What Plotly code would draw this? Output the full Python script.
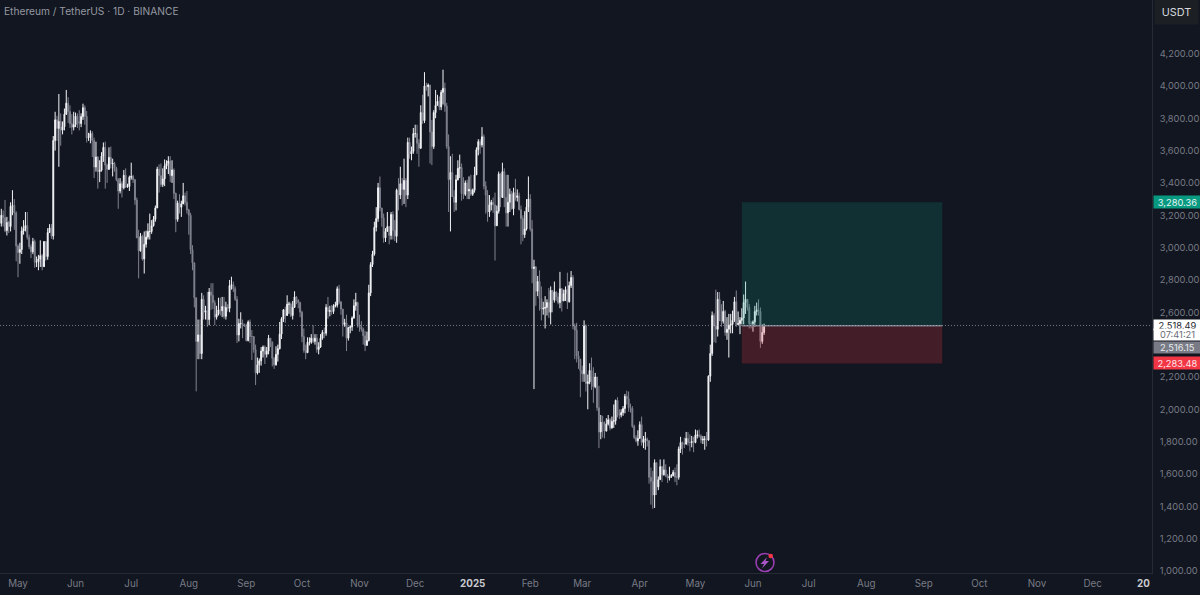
import pandas as pd
import plotly.graph_objects as go

BG = "#121620"
FIRST_DAY = "2024-04-22"

opens = [
3150,3200,3185,3105,3155,3130,3255,3260,3215,
3010,2970,2988,3103,3118,3136,3063,3005,2974,3037,2910,2912,2930,2950,2882,3037,2945,3093,3122,3072,3662,3790,3737,3780,3726,3748,3825,3893,3841,3766,3745,
3760,3813,3780,3767,3810,3865,3812,3679,3681,3706,3662,3498,3560,3470,3478,3566,3620,3510,3484,3558,3517,3520,3490,3420,3350,3395,3370,3447,3375,3378,
3435,3440,3420,3295,3060,2980,3070,2930,3020,3065,3100,3100,3135,3175,3245,3485,3445,3390,3425,3505,3520,3535,3445,3480,3335,3175,3275,3250,3270,3320,3280,
3232,3200,2987,2905,2690,2420,2460,2345,2680,2600,2610,2555,2725,2705,2660,2570,2590,2615,2610,2636,2575,2630,2625,2765,2770,2745,2680,2460,2530,2530,2525,
2515,2425,2540,2450,2450,2370,2225,2275,2300,2360,2385,2340,2360,2440,2415,2315,2275,2340,2375,2465,2560,2615,2580,2650,2650,2580,2630,2695,2675,2660,
2600,2450,2365,2350,2415,2415,2440,2420,2440,2370,2385,2440,2475,2470,2630,2605,2610,2605,2640,2645,2745,2665,2620,2525,2535,2440,2505,2510,2565,2640,2660,
2520,2510,2495,2455,2395,2425,2720,2895,2960,3125,3180,3370,3245,3185,3060,3100,3130,3075,3205,3105,3070,3355,3325,3395,3360,3415,3325,3650,3580,3595,
3705,3705,3645,3615,3835,3785,4000,3995,4005,3715,3625,3835,3880,3905,3870,3960,3985,3875,3625,3420,3465,3315,3280,3420,3490,3495,3335,3330,3400,3350,3360,
3330,3355,3450,3605,3655,3635,3685,3380,3325,3220,3265,3280,3265,3135,3225,3455,3310,3470,3310,3215,3280,3330,3240,3340,3310,3320,3235,3180,3080,3115,3250,
3300,3115,2870,2880,2730,2790,2685,2620,2625,2630,2660,2600,2735,2675,2725,2695,2660,2745,2670,2715,2740,2665,2765,2815,2515,2490,2330,2310,
2240,2220,2515,2160,2170,2240,2200,2140,2200,2010,1860,1920,1905,1865,1910,1935,1885,1925,1930,2055,1965,1965,1980,2005,2080,2065,2010,2005,1895,1825,1805,
1820,1905,1795,1815,1815,1805,1580,1555,1470,1670,1520,1565,1645,1595,1625,1590,1575,1585,1590,1610,1580,1580,1755,1795,1785,1785,1820,1795,1795,1800,
1795,1840,1840,1835,1810,1815,1815,1810,2205,2345,2580,2515,2495,2680,2610,2545,2605,2475,2495,2520,2525,2550,2665,2525,2530,2550,2565,2660,2680,2630,2530,
2530,2540,2605,2615,2605,2420,2475,
]
highs = [
3240,3230,3295,3190,3165,3280,3355,3300,3225,
3020,3030,3130,3170,3220,3220,3080,3020,3060,3050,2945,2955,3045,2960,3040,3040,3120,3145,3145,3690,3840,3815,3950,3830,3780,3860,3975,3930,3880,3825,3840,
3835,3830,3850,3830,3890,3880,3845,3710,3725,3720,3680,3655,3565,3540,3590,3650,3655,3520,3620,3625,3550,3530,3500,3430,3430,3410,3480,3490,3395,3445,
3525,3450,3425,3310,3110,3090,3080,3100,3105,3150,3210,3170,3195,3260,3500,3515,3520,3490,3545,3540,3565,3565,3540,3490,3340,3290,3330,3290,3400,3340,3350,
3240,3215,3015,2910,2560,2555,2555,2720,2705,2640,2725,2750,2780,2780,2675,2640,2690,2690,2695,2695,2665,2650,2800,2820,2790,2760,2700,2560,2600,2555,2530,
2530,2550,2555,2490,2420,2400,2320,2315,2385,2395,2395,2385,2460,2430,2420,2325,2390,2400,2540,2570,2620,2635,2705,2665,2660,2670,2730,2700,2680,2665,
2610,2500,2400,2445,2445,2465,2520,2465,2465,2415,2465,2490,2505,2650,2695,2640,2645,2650,2665,2760,2770,2640,2620,2560,2585,2510,2520,2575,2680,2720,2665,
2585,2545,2505,2485,2480,2770,2910,2980,3160,3250,3400,3440,3240,3210,3120,3220,3120,3220,3225,3170,3365,3430,3500,3430,3550,3430,3680,3680,3625,3740,
3760,3760,3670,3880,3945,4085,4020,4015,4005,3790,3850,3975,3945,3935,3975,4100,4020,3895,3700,3565,3580,3355,3450,3540,3575,3520,3435,3415,3420,3440,3450,
3365,3500,3620,3670,3670,3745,3700,3410,3355,3325,3295,3310,3340,3260,3470,3460,3525,3490,3450,3450,3365,3350,3370,3425,3360,3340,3260,3200,3225,3300,3440,
3330,3170,2925,2885,2825,2860,2760,2665,2700,2680,2750,2760,2730,2790,2730,2720,2850,2750,2740,2760,2845,2790,2855,2830,2530,2535,2360,2300,
2270,2550,2525,2215,2285,2320,2260,2225,2200,2145,1965,1960,1925,1945,1965,1945,1955,2030,2060,2075,2000,2000,2020,2095,2115,2110,2035,2020,1905,1840,1870,
1925,1955,1835,1860,1825,1810,1640,1620,1690,1670,1585,1690,1650,1690,1660,1600,1645,1600,1625,1640,1660,1770,1830,1800,1825,1860,1860,1845,1835,1830,
1875,1870,1875,1845,1835,1835,1860,2210,2400,2605,2595,2740,2725,2725,2650,2670,2615,2570,2590,2590,2610,2695,2735,2605,2570,2625,2710,2790,2680,2650,2545,
2550,2640,2660,2680,2630,2525,2530,
]
lows = [
3130,3130,3095,3075,3090,3100,3200,3110,2915,
2817,2900,2960,3080,3100,3050,2990,2935,2960,2875,2880,2860,2880,2860,2880,2920,2925,3095,3055,3050,3600,3660,3500,3630,3700,3725,3820,3770,3740,3700,3725,
3745,3740,3725,3745,3790,3760,3650,3660,3645,3560,3430,3470,3365,3405,3470,3530,3365,3400,3480,3490,3440,3470,3410,3240,3335,3310,3360,3370,3370,3350,
3420,3400,3265,3060,2810,2975,2920,2840,3000,3050,3050,3085,3130,3160,3245,3340,3375,3375,3380,3485,3455,3405,3400,3300,3095,3160,3210,3190,3290,3260,3210,
3080,2960,2860,2630,2111,2310,2310,2310,2555,2555,2510,2520,2615,2620,2520,2555,2580,2580,2570,2560,2555,2605,2600,2740,2725,2670,2410,2420,2500,2440,2510,
2420,2420,2410,2305,2350,2150,2215,2225,2270,2320,2280,2320,2340,2385,2265,2250,2270,2295,2370,2435,2540,2535,2590,2590,2570,2555,2630,2650,2625,2570,
2415,2350,2310,2350,2395,2405,2410,2400,2350,2340,2380,2430,2440,2455,2560,2575,2585,2590,2630,2630,2650,2585,2450,2510,2360,2425,2470,2485,2560,2610,2505,
2480,2480,2400,2360,2395,2420,2700,2880,2950,3100,3160,3225,3130,3030,3035,3100,3020,3050,3050,3040,3030,3230,3300,3260,3270,3250,3300,3550,3540,3580,
3680,3580,3500,3610,3765,3770,3970,3935,3520,3510,3610,3800,3880,3850,3850,3885,3840,3610,3220,3100,3320,3220,3230,3415,3430,3290,3300,3320,3300,3300,3320,
3320,3340,3450,3570,3580,3620,3360,3210,3160,3190,3230,3215,2920,3135,3210,3250,3320,3250,3130,3130,3220,3235,3200,3290,3285,3230,3020,3040,3060,3105,3220,
3100,2780,2125,2640,2700,2610,2550,2585,2500,2580,2565,2525,2600,2660,2670,2650,2625,2605,2670,2670,2620,2660,2750,2495,2310,2290,2250,2075,
2170,2170,2110,2000,2155,2120,2040,2130,1990,1760,1815,1825,1820,1865,1900,1870,1880,1885,1905,1950,1940,1950,1960,1975,2030,1985,1980,1885,1815,1795,1775,
1820,1775,1760,1750,1770,1540,1410,1385,1390,1470,1500,1565,1550,1590,1580,1545,1560,1575,1585,1550,1530,1565,1730,1720,1760,1780,1775,1740,1765,1735,
1790,1820,1825,1790,1785,1750,1770,1805,2170,2330,2415,2410,2450,2545,2510,2530,2455,2430,2320,2470,2470,2540,2510,2520,2465,2525,2525,2590,2610,2500,2500,
2480,2510,2580,2580,2380,2405,2460,
]
closes = [
3200,3185,3105,3155,3130,3255,3260,3215,3010,
2970,2988,3103,3118,3136,3063,3005,2974,3037,2910,2912,2930,2950,2882,3037,2945,3093,3122,3072,3662,3790,3737,3780,3726,3748,3825,3893,3841,3766,3745,3760,
3813,3780,3767,3810,3865,3812,3679,3681,3706,3662,3498,3560,3470,3478,3566,3620,3510,3484,3558,3517,3520,3490,3420,3350,3395,3370,3447,3375,3378,3435,
3440,3420,3295,3060,2980,3070,2930,3020,3065,3100,3100,3135,3175,3245,3485,3445,3390,3425,3505,3520,3535,3445,3480,3335,3175,3275,3250,3270,3320,3280,3232,
3200,2987,2905,2690,2420,2460,2345,2680,2600,2610,2555,2725,2705,2660,2570,2590,2615,2610,2636,2575,2630,2625,2765,2770,2745,2680,2460,2530,2530,2525,2515,
2425,2540,2450,2450,2370,2225,2275,2300,2360,2385,2340,2360,2440,2415,2315,2275,2340,2375,2465,2560,2615,2580,2650,2650,2580,2630,2695,2675,2660,2600,
2450,2365,2350,2415,2415,2440,2420,2440,2370,2385,2440,2475,2470,2630,2605,2610,2605,2640,2645,2745,2665,2620,2525,2535,2440,2505,2510,2565,2640,2660,2520,
2510,2495,2455,2395,2425,2720,2895,2960,3125,3180,3370,3245,3185,3060,3100,3130,3075,3205,3105,3070,3355,3325,3395,3360,3415,3325,3650,3580,3595,3705,
3705,3645,3615,3835,3785,4000,3995,4005,3715,3625,3835,3880,3905,3870,3960,3985,3875,3625,3420,3465,3315,3280,3420,3490,3495,3335,3330,3400,3350,3360,3330,
3355,3450,3605,3655,3635,3685,3380,3325,3220,3265,3280,3265,3135,3225,3455,3310,3470,3310,3215,3280,3330,3240,3340,3310,3320,3235,3180,3080,3115,3250,3300,
3115,2870,2880,2730,2790,2685,2620,2625,2630,2660,2600,2735,2675,2725,2695,2660,2745,2670,2715,2740,2665,2765,2815,2515,2490,2330,2310,2240,
2220,2515,2160,2170,2240,2200,2140,2200,2010,1860,1920,1905,1865,1910,1935,1885,1925,1930,2055,1965,1965,1980,2005,2080,2065,2010,2005,1895,1825,1805,1820,
1905,1795,1815,1815,1805,1580,1555,1470,1670,1520,1565,1645,1595,1625,1590,1575,1585,1590,1610,1580,1580,1755,1795,1785,1785,1820,1795,1795,1800,1795,
1840,1840,1835,1810,1815,1815,1810,2205,2345,2580,2515,2495,2680,2610,2545,2605,2475,2495,2520,2525,2550,2665,2525,2530,2550,2565,2660,2680,2630,2530,2530,
2540,2605,2615,2605,2420,2475,2518,
]
assert len(opens) == len(highs) == len(lows) == len(closes), (len(opens), len(highs), len(lows), len(closes))

y_ticks = [1000, 1200, 1400, 1600, 1800, 2000, 2200, 2600, 2800, 3000, 3200, 3400, 3600, 3800, 4000, 4200]
month_ticks = ["2024-05-01","2024-06-01","2024-07-01","2024-08-01","2024-09-01","2024-10-01","2024-11-01","2024-12-01",
               "2025-01-01","2025-02-01","2025-03-01","2025-04-01","2025-05-01","2025-06-01","2025-07-01","2025-08-01",
               "2025-09-01","2025-10-01","2025-11-01","2025-12-01"]
month_labels = ["May","Jun","Jul","Aug","Sep","Oct","Nov","Dec","<span style='color:#c8cad0'><b>2025</b></span>","Feb","Mar","Apr","May","Jun","Jul","Aug","Sep","Oct","Nov","Dec"]

last_price = 2518.49
countdown = "07:41:21"
entry_price = 2516.15
target_price = 3280.36
stop_price = 2283.48
position_start = "2025-05-26"
position_end = "2025-09-11"

dates = pd.date_range(FIRST_DAY, periods=len(closes), freq="D")

W, H, PW, PH = 1200, 595, 1152, 573
px = lambda x: x / PW
py = lambda y: 1 - y / PH

UP = "#f4f5f8"
DOWN = "#80838f"
FONT = "Inter, Roboto, sans-serif"

fig = go.Figure(go.Candlestick(
    x=dates, open=opens, high=highs, low=lows, close=closes,
    increasing=dict(line=dict(color=UP, width=1), fillcolor=UP),
    decreasing=dict(line=dict(color=DOWN, width=1), fillcolor=DOWN),
    whiskerwidth=0, showlegend=False, hoverinfo="skip",
))

shapes = [
    dict(type="rect", xref="x", yref="y", x0=position_start, x1=position_end, y0=entry_price, y1=target_price,
         fillcolor="rgba(8,153,129,0.2)", line_width=0, layer="above"),
    dict(type="rect", xref="x", yref="y", x0=position_start, x1=position_end, y0=stop_price, y1=entry_price,
         fillcolor="rgba(242,54,69,0.22)", line_width=0, layer="above"),
    dict(type="line", xref="x", yref="y", x0=position_start, x1=position_end, y0=entry_price, y1=entry_price,
         line=dict(color="#787b86", width=1.5), layer="above"),
    dict(type="line", xref="paper", yref="y", x0=0, x1=1, y0=last_price, y1=last_price,
         line=dict(color="rgba(200,203,212,0.55)", width=1, dash="1px,2px"), layer="above"),
    dict(type="circle", xref="paper", yref="paper", x0=px(756), x1=px(774), y0=py(571.5), y1=py(553.5),
         line=dict(color="#9c3fb5", width=1.5), fillcolor="rgba(0,0,0,0)"),
    dict(type="path", xref="paper", yref="paper", fillcolor="#a855c8", line_width=0,
         path="M %f %f L %f %f L %f %f L %f %f L %f %f L %f %f Z" % (
             px(767), py(557), px(760.5), py(564), px(764), py(564), px(762), py(568.5), px(769), py(561), px(765.5), py(561))),
    dict(type="circle", xref="paper", yref="paper", x0=px(768.4), x1=px(773), y0=py(558.3), y1=py(553.7),
         fillcolor="#f23645", line_width=0),
]

def tag(text, value, bg, color, shift=0, height=12):
    return dict(xref="paper", yref="y", x=1, y=value, xanchor="left", yanchor="middle", xshift=1, yshift=shift,
                text=text, showarrow=False, bgcolor=bg, width=47, height=height, align="center", borderpad=0,
                font=dict(family=FONT, size=9.3, color=color))

annotations = [
    dict(xref="paper", yref="paper", x=px(2), y=py(10.5), xanchor="left", yanchor="middle", showarrow=False,
         text="Ethereum / TetherUS · 1D · BINANCE", font=dict(family=FONT, size=10.2, color="#9598a1")),
    dict(xref="paper", yref="paper", x=px(1176), y=py(11.5), xanchor="center", yanchor="middle", showarrow=False,
         text="USDT", width=41, height=22, bgcolor="#1c1f24", font=dict(family=FONT, size=10.8, color="#d6d8de")),
    dict(xref="paper", yref="paper", x=1, y=0, xanchor="right", yanchor="top", yshift=-3, showarrow=False,
         text="<b>20</b>", font=dict(family=FONT, size=9.8, color="#c8cad0")),
    tag(f"{target_price:,.2f}", target_price, "#089981", "#e6f5f2"),
    tag(f"{last_price:,.2f}", last_price, "#ffffff", "#23262e", shift=0.5, height=10),
    tag(countdown, last_price, "#ffffff", "#6b6e78", shift=-9.5, height=11),
    tag(f"{entry_price:,.2f}", entry_price, "#787b86", "#e8e9ec", shift=-22, height=11),
    tag(f"{stop_price:,.2f}", stop_price, "#f23645", "#fde6e8"),
]

fig.update_layout(
    width=W, height=H, margin=dict(l=0, r=W - PW, t=0, b=H - PH),
    paper_bgcolor=BG, plot_bgcolor=BG, showlegend=False, shapes=shapes, annotations=annotations,
    xaxis=dict(type="date", range=["2024-04-21 07:00", "2026-01-02 00:00"], rangeslider_visible=False,
               tickmode="array", tickvals=month_ticks, ticktext=month_labels, showgrid=False, zeroline=False,
               ticks="outside", ticklen=1, tickcolor="rgba(0,0,0,0)", showline=True, linecolor="#262a34", linewidth=1,
               automargin=False, tickfont=dict(family=FONT, size=9.8, color="#787b86")),
    yaxis=dict(side="right", range=[987.7, 4531.2], tickmode="array", tickvals=y_ticks, tickformat=",.2f",
               showgrid=False, zeroline=False, ticks="outside", ticklen=5, tickcolor="rgba(0,0,0,0)",
               showline=True, linecolor="#262a34", linewidth=1,
               automargin=False, tickfont=dict(family=FONT, size=9.3, color="#787b86")),
)

fig.write_html("out.html", config={"displayModeBar": False},
               post_script="document.body.style.margin='0';document.body.style.background='%s';" % BG)
